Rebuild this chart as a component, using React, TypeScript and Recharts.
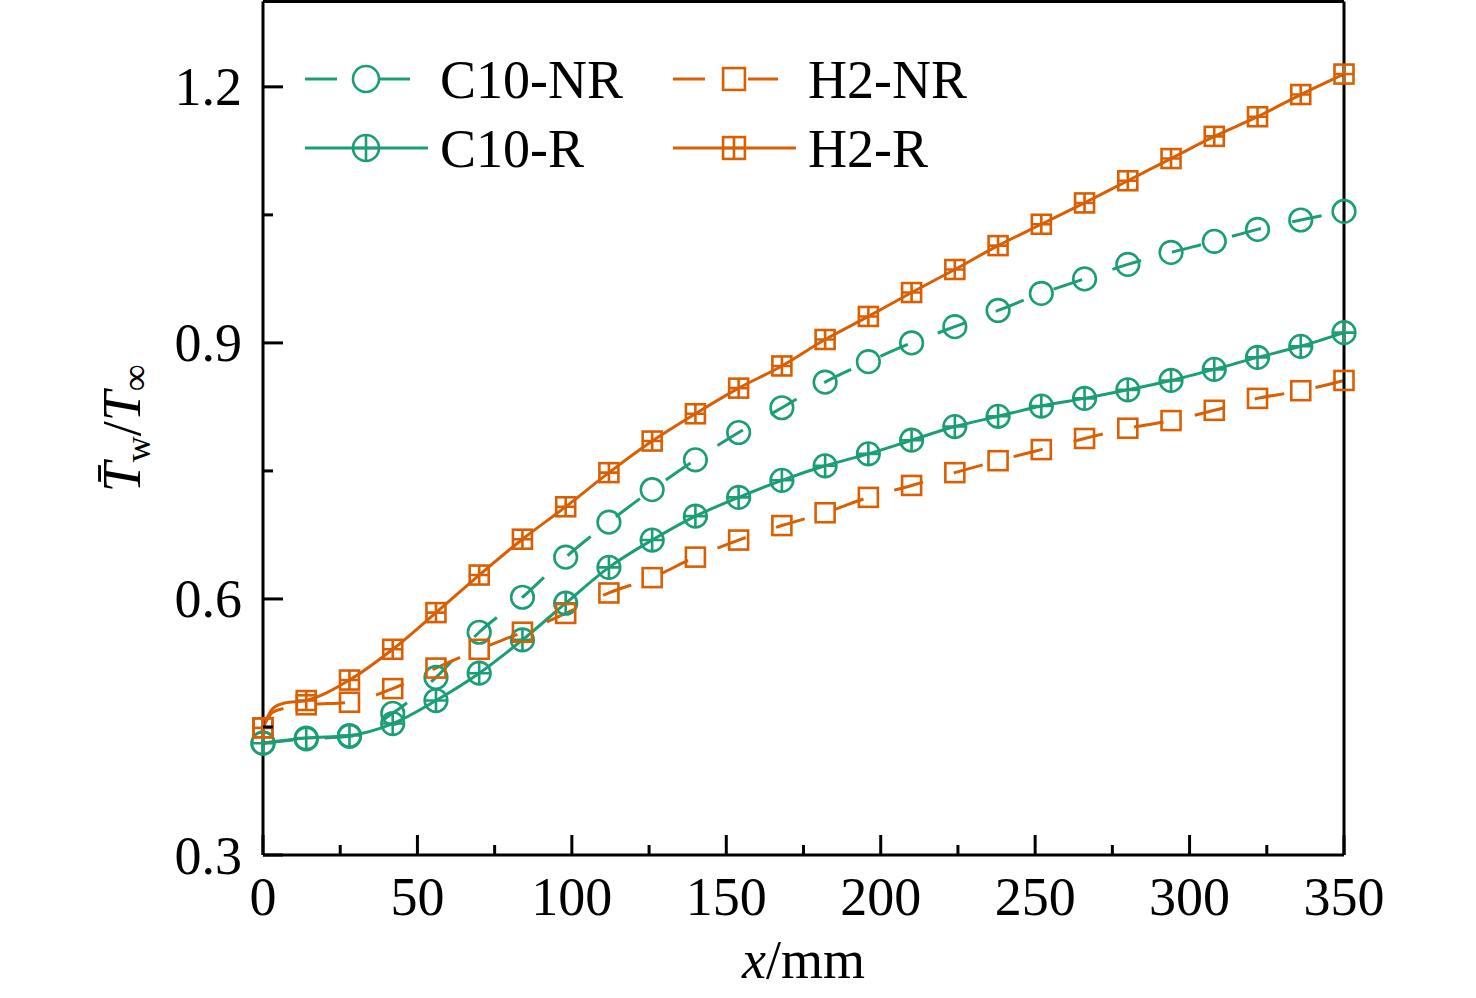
import React from 'react';
import { LineChart, Line, XAxis, YAxis, Legend, Label } from 'recharts';

// ---------- data ----------
const xPositions = [0, 14, 28, 42, 56, 70, 84, 98, 112, 126, 140, 154, 168, 182, 196, 210, 224, 238, 252, 266, 280, 294, 308, 322, 336, 350];
const c10NR = [0.431, 0.436, 0.439, 0.466, 0.508, 0.561, 0.602, 0.649, 0.690, 0.728, 0.763, 0.795, 0.824, 0.854, 0.878, 0.900, 0.919, 0.938, 0.958, 0.975, 0.992, 1.006, 1.019, 1.033, 1.044, 1.054];
const c10R = [0.431, 0.437, 0.440, 0.454, 0.481, 0.513, 0.552, 0.595, 0.637, 0.669, 0.697, 0.719, 0.739, 0.756, 0.770, 0.786, 0.802, 0.814, 0.826, 0.835, 0.845, 0.856, 0.869, 0.883, 0.896, 0.912];
const h2NR = [0.449, 0.476, 0.479, 0.495, 0.519, 0.541, 0.561, 0.583, 0.607, 0.625, 0.649, 0.669, 0.686, 0.701, 0.719, 0.733, 0.748, 0.762, 0.775, 0.788, 0.800, 0.809, 0.821, 0.835, 0.844, 0.856];
const h2R = [0.449, 0.481, 0.505, 0.541, 0.584, 0.628, 0.670, 0.708, 0.748, 0.785, 0.817, 0.847, 0.873, 0.904, 0.931, 0.959, 0.986, 1.014, 1.039, 1.064, 1.090, 1.116, 1.142, 1.165, 1.191, 1.215];
// extra curve points (no symbol) describing the steep rise right after x = 0
const h2EarlyX = [3, 7];
const h2NREarly = [0.467, 0.472];
const h2REarly = [0.471, 0.478];

const xTicks = [0, 25, 50, 75, 100, 125, 150, 175, 200, 225, 250, 275, 300, 325, 350];
const xMajor = [0, 50, 100, 150, 200, 250, 300, 350];
const yTicks = [0.3, 0.45, 0.6, 0.75, 0.9, 1.05, 1.2];
const yMajor = [0.3, 0.6, 0.9, 1.2];
const xDomain = [0, 350];
const yDomain = [0.3, 1.3];

// ---------- style ----------
const W = 1476;
const H = 998;
const FONT = '"Liberation Serif", "Times New Roman", serif';
const GREEN = '#1b9e77';
const ORANGE = '#d95f02';
const FS = 54;

type Pt = { x: number; y: number };
const toPoints = (xs: number[], ys: number[]): Pt[] => xs.map((x, i) => ({ x, y: ys[i] }));
const withEarly = (base: Pt[], ex: number[], ey: number[]): Pt[] =>
  [...base, ...toPoints(ex, ey)].sort((a, b) => a.x - b.x);

const markerXs = new Set(xPositions);

const series = [
  { name: 'C10-NR', data: toPoints(xPositions, c10NR), color: GREEN, dashed: true, shape: 'circle', crossed: false, col: 0, row: 0 },
  { name: 'C10-R', data: toPoints(xPositions, c10R), color: GREEN, dashed: false, shape: 'circle', crossed: true, col: 0, row: 1 },
  { name: 'H2-NR', data: withEarly(toPoints(xPositions, h2NR), h2EarlyX, h2NREarly), color: ORANGE, dashed: true, shape: 'square', crossed: false, col: 1, row: 0 },
  { name: 'H2-R', data: withEarly(toPoints(xPositions, h2R), h2EarlyX, h2REarly), color: ORANGE, dashed: false, shape: 'square', crossed: true, col: 1, row: 1 },
];

function Marker({ cx, cy, shape, crossed, color, size }: any) {
  const sw = 2.6;
  if (shape === 'circle') {
    const r = size;
    return (
      <g>
        <circle cx={cx} cy={cy} r={r} fill="none" stroke={color} strokeWidth={sw} />
        {crossed && <path d={`M${cx - r},${cy}H${cx + r}M${cx},${cy - r}V${cy + r}`} stroke={color} strokeWidth={sw} fill="none" />}
      </g>
    );
  }
  const h = size * 0.84;
  return (
    <g>
      <rect x={cx - h} y={cy - h} width={2 * h} height={2 * h} fill="none" stroke={color} strokeWidth={sw} />
      {crossed && <path d={`M${cx - h},${cy}H${cx + h}M${cx},${cy - h}V${cy + h}`} stroke={color} strokeWidth={sw} fill="none" />}
    </g>
  );
}

const makeDot = (s: any) => (props: any) => {
  const { cx, cy, payload, index } = props;
  const key = `${s.name}-dot-${index}`;
  if (cx == null || cy == null || !payload || !markerXs.has(payload.x)) return <g key={key} />;
  return (
    <g key={key}>
      <Marker cx={cx} cy={cy} shape={s.shape} crossed={s.crossed} color={s.color} size={11.3} />
    </g>
  );
};

// ---------- ticks ----------
const BottomTick = (props: any) => {
  const { x, y, payload } = props;
  const v = payload.value;
  const major = xMajor.includes(v);
  return (
    <g>
      <line x1={x} x2={x} y1={y} y2={y - (major ? 20 : 10)} stroke="#000" strokeWidth={3} />
      {major && (
        <text x={x} y={y + 60} textAnchor="middle" fontSize={FS} fontFamily={FONT} fill="#000">
          {v}
        </text>
      )}
    </g>
  );
};
const TopTick = (props: any) => {
  const { x, y, payload } = props;
  const major = xMajor.includes(payload.value);
  return <line x1={x} x2={x} y1={y} y2={y + (major ? 20 : 10)} stroke="#000" strokeWidth={3} />;
};
const isYMajor = (v: number) => yMajor.some((m) => Math.abs(m - v) < 1e-6);
const LeftTick = (props: any) => {
  const { x, y, payload } = props;
  const v = payload.value;
  const major = isYMajor(v);
  return (
    <g>
      <line x1={x} x2={x + (major ? 20 : 10)} y1={y} y2={y} stroke="#000" strokeWidth={3} />
      {major && (
        <text x={x - 21} y={y} dy={18.5} textAnchor="end" fontSize={FS} fontFamily={FONT} fill="#000">
          {v.toFixed(1)}
        </text>
      )}
    </g>
  );
};
const RightTick = (props: any) => {
  const { x, y, payload } = props;
  const major = isYMajor(payload.value);
  return <line x1={x} x2={x - (major ? 20 : 10)} y1={y} y2={y} stroke="#000" strokeWidth={3} />;
};

// ---------- titles ----------
const XTitle = (props: any) => {
  const vb = props.viewBox || {};
  const cx = vb.x + vb.width / 2;
  return (
    <text x={cx} y={vb.y + 123} textAnchor="middle" fontSize={FS} fontFamily={FONT} fill="#000">
      <tspan fontStyle="italic">x</tspan>
      <tspan>/mm</tspan>
    </text>
  );
};
const YTitle = (props: any) => {
  const vb = props.viewBox || {};
  const cx = vb.x + vb.width - 123;
  const cy = vb.y + vb.height / 2;
  return (
    <text transform={`translate(${cx},${cy}) rotate(-90)`} textAnchor="middle" fontSize={FS} fontFamily={FONT} fill="#000">
      <tspan fontStyle="italic">{'T\u0304'}</tspan>
      <tspan fontSize={36} dy={10}>w</tspan>
      <tspan dy={-10}>/</tspan>
      <tspan fontStyle="italic">T</tspan>
      <tspan fontSize={38} dy={8}>{'\u221E'}</tspan>
    </text>
  );
};

// ---------- legend ----------
const legendCols = [305, 673];
const legendRows = [79, 148];
const renderLegend = () => (
  <svg width={W} height={H} style={{ position: 'absolute', left: 0, top: 0, overflow: 'visible' }}>
    {series.map((s) => {
      const x0 = legendCols[s.col];
      const y0 = legendRows[s.row];
      const mx = x0 + 61;
      return (
        <g key={s.name}>
          {s.dashed ? (
            <g>
              <line x1={x0} x2={x0 + 32} y1={y0} y2={y0} stroke={s.color} strokeWidth={3} />
              <line x1={x0 + 75} x2={x0 + 105} y1={y0} y2={y0} stroke={s.color} strokeWidth={3} />
            </g>
          ) : (
            <line x1={x0} x2={x0 + 123} y1={y0} y2={y0} stroke={s.color} strokeWidth={3} />
          )}
          <Marker cx={mx} cy={y0} shape={s.shape} crossed={s.crossed} color={s.color} size={13} />
          <text x={x0 + 135} y={y0 + 19} fontSize={FS} fontFamily={FONT} fill="#000">
            {s.name}
          </text>
        </g>
      );
    })}
  </svg>
);

const axisLineStyle = { stroke: '#000', strokeWidth: 3 };

export default function App() {
  return (
    <div style={{ position: 'absolute', left: 0, top: 0, width: W, height: H, background: '#fff' }}>
      <LineChart width={W} height={H} margin={{ top: 0.5, right: 131, bottom: 142, left: 262 }}>
        <XAxis
          xAxisId="b"
          dataKey="x"
          type="number"
          orientation="bottom"
          domain={xDomain}
          ticks={xTicks}
          interval={0}
          height={1}
          tickSize={0}
          tickMargin={0}
          tickLine={false}
          axisLine={axisLineStyle}
          tick={(p: any) => <BottomTick {...p} />}
        >
          <Label content={(p: any) => <XTitle {...p} />} />
        </XAxis>
        <XAxis
          xAxisId="t"
          dataKey="x"
          type="number"
          orientation="top"
          domain={xDomain}
          ticks={xTicks}
          interval={0}
          height={1}
          tickSize={0}
          tickMargin={0}
          tickLine={false}
          axisLine={axisLineStyle}
          tick={(p: any) => <TopTick {...p} />}
        />
        <YAxis
          yAxisId="l"
          type="number"
          orientation="left"
          domain={yDomain}
          ticks={yTicks}
          interval={0}
          width={1}
          tickSize={0}
          tickMargin={0}
          tickLine={false}
          axisLine={axisLineStyle}
          tick={(p: any) => <LeftTick {...p} />}
        >
          <Label content={(p: any) => <YTitle {...p} />} />
        </YAxis>
        <YAxis
          yAxisId="r"
          type="number"
          orientation="right"
          domain={yDomain}
          ticks={yTicks}
          interval={0}
          width={1}
          tickSize={0}
          tickMargin={0}
          tickLine={false}
          axisLine={axisLineStyle}
          tick={(p: any) => <RightTick {...p} />}
        />
        {series.map((s) => (
          <Line
            key={s.name}
            xAxisId="b"
            yAxisId="l"
            data={s.data}
            dataKey="y"
            name={s.name}
            type="monotone"
            stroke={s.color}
            strokeWidth={3}
            strokeDasharray={s.dashed ? '30 32' : undefined}
            dot={makeDot(s)}
            activeDot={false}
            isAnimationActive={false}
          />
        ))}
        <Legend
          layout="horizontal"
          verticalAlign="middle"
          align="center"
          wrapperStyle={{ position: 'absolute', left: 0, top: 0, width: W, height: H, pointerEvents: 'none' }}
          content={renderLegend}
        />
      </LineChart>
    </div>
  );
}
